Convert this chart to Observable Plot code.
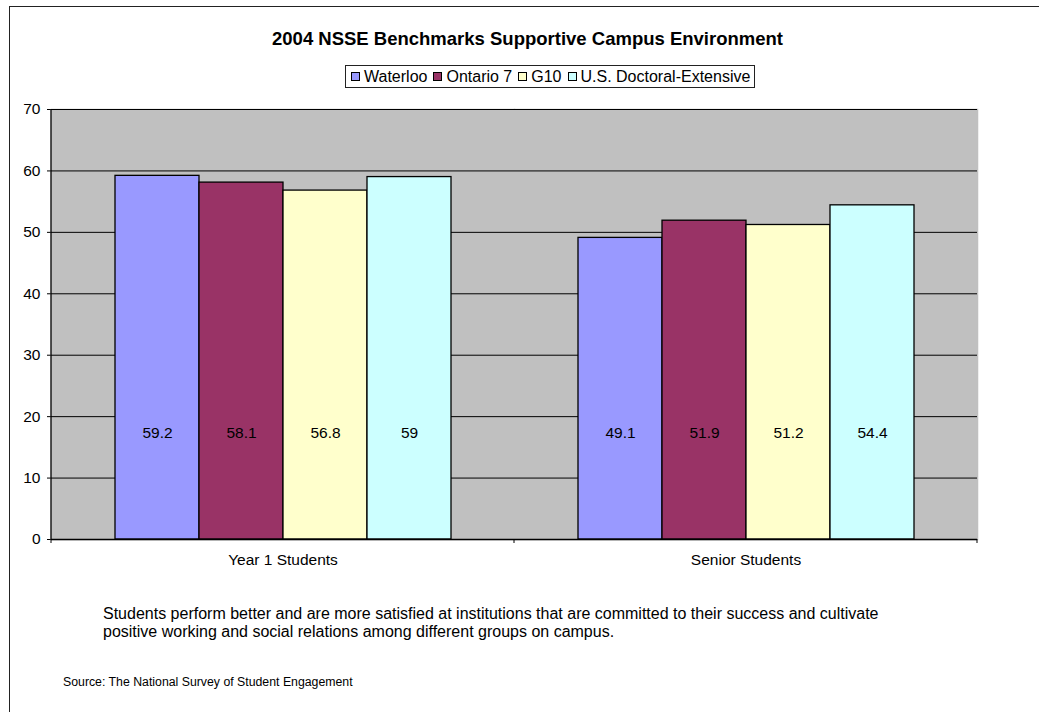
<!DOCTYPE html>
<html><head><meta charset="utf-8">
<script src="https://cdn.jsdelivr.net/npm/d3@7"></script>
<script src="https://cdn.jsdelivr.net/npm/@observablehq/plot@0.6"></script>
<style>
html,body{margin:0;padding:0;background:#fff;overflow:hidden;width:1039px;height:712px;}
body{position:relative;font-family:"Liberation Sans", Arial, sans-serif;color:#000;}
#frame{position:absolute;left:9px;top:6px;width:1100px;height:800px;border:1px solid #222;box-sizing:border-box;}
#title{position:absolute;left:0;top:30px;width:1055px;text-align:center;font-size:18.5px;font-weight:bold;line-height:18px;white-space:nowrap;}
#legend{position:absolute;left:345px;top:65px;height:23px;box-sizing:border-box;border:1px solid #222;display:flex;align-items:center;padding:0 4px 0 5px;font-size:16px;white-space:nowrap;background:#fff;}
#legend .item{display:flex;align-items:center;margin-right:6px;}
#legend .item:last-child{margin-right:0;}
#legend .sw{width:9px;height:9px;border:1px solid #000;margin-right:4px;box-sizing:border-box;}
#chart{position:absolute;left:0;top:95px;}
#caption{position:absolute;left:103px;top:605px;font-size:16px;line-height:18px;white-space:nowrap;}
#source{position:absolute;left:63px;top:675px;font-size:12.3px;line-height:14px;white-space:nowrap;}
</style>
</head><body>
<div id="frame"></div>
<div id="title"></div>
<div id="legend"></div>
<div id="chart"></div>
<div id="caption"></div>
<div id="source"></div>
<script>
const titleText = "2004 NSSE Benchmarks Supportive Campus Environment";
const categories = ["Year 1 Students", "Senior Students"];
const series = ["Waterloo", "Ontario 7", "G10", "U.S. Doctoral-Extensive"];
const waterloo = [59.2, 49.1];
const ontario7 = [58.1, 51.9];
const g10 = [56.8, 51.2];
const usDoctoral = [59, 54.4];
const seriesColors = ["#9999FF", "#993366", "#FFFFCC", "#CCFFFF"];
const yTicks = [0, 10, 20, 30, 40, 50, 60, 70];
const labelLevel = 17.3;
const captionLines = [
  "Students perform better and are more satisfied at institutions that are committed to their success and cultivate",
  "positive working and social relations among different groups on campus."
];
const sourceText = "Source: The National Survey of Student Engagement";

const seriesValues = [waterloo, ontario7, g10, usDoctoral];
const data = [];
categories.forEach((c, ci) => series.forEach((s, si) => data.push({category: c, series: s, value: seriesValues[si][ci]})));

document.getElementById("title").textContent = titleText;
const leg = document.getElementById("legend");
series.forEach((s, i) => {
  const it = document.createElement("div"); it.className = "item";
  const sw = document.createElement("div"); sw.className = "sw"; sw.style.background = seriesColors[i];
  const tx = document.createElement("span"); tx.textContent = s;
  it.appendChild(sw); it.appendChild(tx); leg.appendChild(it);
});
const cap = document.getElementById("caption");
captionLines.forEach(l => { const d = document.createElement("div"); d.textContent = l; cap.appendChild(d); });
document.getElementById("source").textContent = sourceText;

const W = 1039, H = 480, mL = 51, mR = 62, mT = 14, mB = 36;
const plot = Plot.plot({
  width: W, height: H,
  marginLeft: mL, marginRight: mR, marginTop: mT, marginBottom: mB,
  style: {fontFamily: '"Liberation Sans", Arial, sans-serif', fontSize: "15.5px", background: "transparent", color: "#000", overflow: "visible"},
  fx: {domain: categories, padding: 0, label: null, tickSize: 0, tickPadding: 14},
  x: {domain: series, paddingInner: 0, paddingOuter: 0.75, axis: null},
  y: {domain: [0, 70], ticks: yTicks, label: null, tickSize: 4, tickPadding: 7},
  color: {domain: series, range: seriesColors},
  marks: [
    Plot.frame({fill: "#C0C0C0", stroke: "#C0C0C0", strokeWidth: 1.5}),
    Plot.gridY(yTicks, {stroke: "#000", strokeOpacity: 1, strokeWidth: 1}),
    Plot.barY(data, {fx: "category", x: "series", y: "value", fill: "series", stroke: "#000", strokeWidth: 1.3, inset: 0}),
    Plot.text(data, {fx: "category", x: "series", y: () => labelLevel, text: d => String(d.value), fill: "#000", fontSize: 15.5}),
    Plot.ruleY([0], {stroke: "#000", strokeWidth: 1.3})
  ]
});
document.getElementById("chart").appendChild(plot);

// axis line and category boundary ticks, positioned with the plot's own scales
const ys = plot.scale("y"), fxs = plot.scale("fx");
const svg = d3.select(plot);
const y0 = ys.apply(0), yTop = ys.apply(70);
const edges = categories.map(c => fxs.apply(c));
edges.push(fxs.apply(categories[categories.length - 1]) + fxs.step);
svg.append("line").attr("x1", edges[0]).attr("x2", edges[0]).attr("y1", yTop).attr("y2", y0).attr("stroke", "#000").attr("stroke-width", 1.3);
svg.selectAll("line.xt").data(edges).join("line").attr("class", "xt")
  .attr("x1", d => d).attr("x2", d => d).attr("y1", y0).attr("y2", y0 + 4).attr("stroke", "#000");
</script>
</body></html>
